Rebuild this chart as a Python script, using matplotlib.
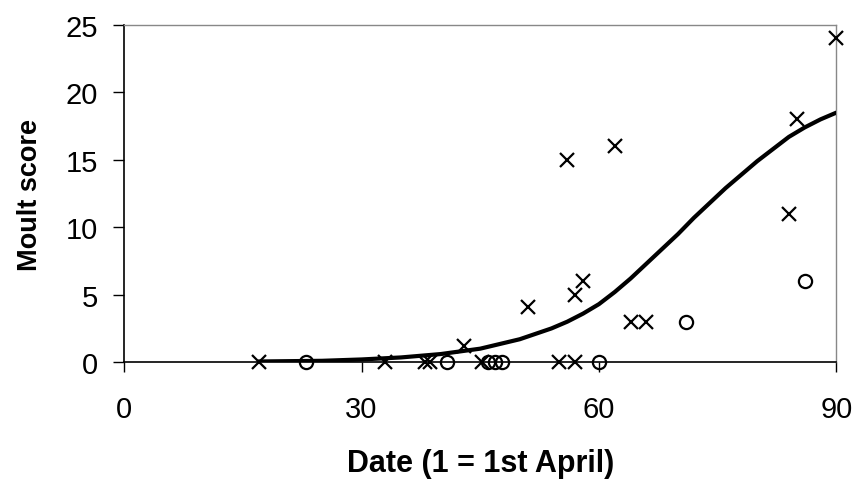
import matplotlib
matplotlib.use("Agg")
import matplotlib.pyplot as plt

plt.rcParams['font.family'] = ['Liberation Sans', 'DejaVu Sans']

# Crosses (one group)
cross_x = [17, 33, 38, 38.6, 43, 45.2, 51, 55, 56, 57, 57, 58, 62, 64, 66, 84, 85, 90]
cross_y = [0, 0, 0, 0, 1.2, 0, 4.1, 0, 15, 0, 5, 6, 16, 3, 3, 11, 18, 24]

# Circles (other group)
circ_x = [23, 40.8, 46, 46.9, 47.8, 60, 71, 86]
circ_y = [0, 0, 0, 0, 0, 0, 3, 6]

# Fitted curve
curve_x = [17, 25, 30, 35, 40, 45, 50, 52, 54, 56, 58, 60, 62, 64, 66, 68, 70,
           72, 74, 76, 78, 80, 82, 84, 86, 88, 90]
curve_y = [0.05, 0.1, 0.2, 0.35, 0.6, 1.0, 1.7, 2.1, 2.5, 3.0, 3.6, 4.3, 5.2, 6.2,
           7.3, 8.4, 9.5, 10.7, 11.8, 12.9, 13.9, 14.9, 15.8, 16.7, 17.4, 18.0, 18.5]

x_ticks = [0, 30, 60, 90]
y_ticks = [0, 5, 10, 15, 20, 25]

fig = plt.figure(figsize=(8.56, 4.81), dpi=100)
ax = fig.add_axes([0.145, 0.245, 0.832, 0.701])

ax.plot(curve_x, curve_y, color='black', lw=3, solid_capstyle='round',
        solid_joinstyle='round', zorder=3)
ax.plot(cross_x, cross_y, 'x', color='black', ms=10, mew=1.6, zorder=4, clip_on=False)
ax.plot(circ_x, circ_y, 'o', mfc='none', mec='black', ms=9.5, mew=1.6, zorder=4, clip_on=False)

ax.set_xlim(0, 90)
ax.set_ylim(0, 25)
ax.set_xticks(x_ticks)
ax.set_yticks(y_ticks)

for s in ['top', 'right']:
    ax.spines[s].set_color('#888888')
    ax.spines[s].set_linestyle((0, (1, 1)))
    ax.spines[s].set_linewidth(1.0)
for s in ['left', 'bottom']:
    ax.spines[s].set_color('black')
    ax.spines[s].set_linewidth(1.2)

ax.tick_params(axis='x', direction='out', length=7, width=1, labelsize=21, pad=17)
ax.tick_params(axis='y', direction='out', length=8, width=1, labelsize=21, pad=11)

ax.set_xlabel('Date (1 = 1st April)', fontsize=22, fontweight='bold', labelpad=18)
ax.set_ylabel('Moult score', fontsize=19.5, fontweight='bold', labelpad=16)

fig.savefig('out.png', dpi=100)
